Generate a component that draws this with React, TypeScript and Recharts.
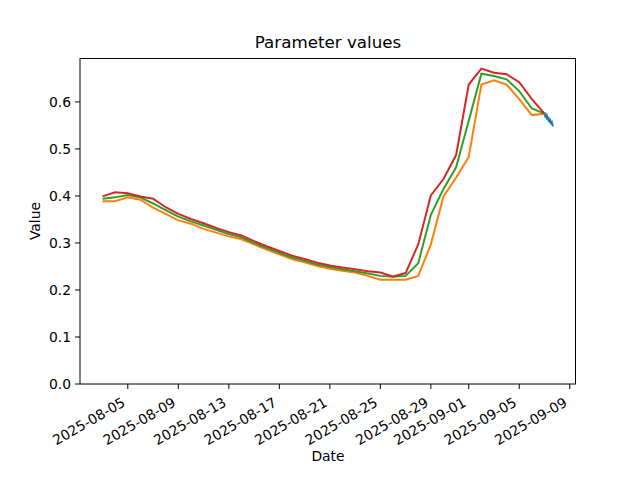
import { LineChart, Line, XAxis, YAxis } from 'recharts';

// daily values, one per date
const dates = [
  '2025-08-03', '2025-08-04', '2025-08-05', '2025-08-06', '2025-08-07', '2025-08-08',
  '2025-08-09', '2025-08-10', '2025-08-11', '2025-08-12', '2025-08-13', '2025-08-14',
  '2025-08-15', '2025-08-16', '2025-08-17', '2025-08-18', '2025-08-19', '2025-08-20',
  '2025-08-21', '2025-08-22', '2025-08-23', '2025-08-24', '2025-08-25', '2025-08-26',
  '2025-08-27', '2025-08-28', '2025-08-29', '2025-08-30', '2025-08-31', '2025-09-01',
  '2025-09-02', '2025-09-03', '2025-09-04', '2025-09-05', '2025-09-06', '2025-09-07',
];

const orangeValues = [
  0.389, 0.389, 0.397, 0.392, 0.375, 0.362, 0.348, 0.341, 0.330, 0.322, 0.314, 0.308,
  0.297, 0.286, 0.276, 0.266, 0.259, 0.251, 0.245, 0.241, 0.237, 0.230, 0.222, 0.222,
  0.222, 0.230, 0.297, 0.399, 0.439, 0.483, 0.637, 0.646, 0.637, 0.606, 0.572, 0.575,
];

const greenValues = [
  0.394, 0.397, 0.402, 0.397, 0.384, 0.370, 0.356, 0.346, 0.337, 0.328, 0.319, 0.312,
  0.300, 0.289, 0.279, 0.269, 0.262, 0.254, 0.249, 0.244, 0.240, 0.235, 0.230, 0.228,
  0.230, 0.257, 0.360, 0.415, 0.461, 0.560, 0.660, 0.655, 0.648, 0.623, 0.586, 0.575,
];

const redValues = [
  0.399, 0.408, 0.406, 0.399, 0.394, 0.376, 0.362, 0.351, 0.342, 0.332, 0.323, 0.316,
  0.304, 0.293, 0.283, 0.273, 0.266, 0.258, 0.252, 0.248, 0.244, 0.240, 0.237, 0.229,
  0.236, 0.297, 0.401, 0.436, 0.487, 0.637, 0.671, 0.662, 0.659, 0.642, 0.606, 0.575,
];

// hourly values on the last day
const hourlyTimes = [
  '2025-09-07T00:00', '2025-09-07T01:00', '2025-09-07T02:00', '2025-09-07T03:00',
  '2025-09-07T04:00', '2025-09-07T05:00', '2025-09-07T06:00', '2025-09-07T07:00',
  '2025-09-07T08:00', '2025-09-07T09:00', '2025-09-07T10:00', '2025-09-07T11:00',
  '2025-09-07T12:00', '2025-09-07T13:00', '2025-09-07T14:00', '2025-09-07T15:00',
  '2025-09-07T16:00', '2025-09-07T17:00',
];
const hourlyValues = [
  0.575, 0.571, 0.573, 0.568, 0.566, 0.569, 0.564, 0.562, 0.564,
  0.559, 0.558, 0.560, 0.555, 0.554, 0.556, 0.551, 0.550, 0.549,
];

const xTickDates = [
  '2025-08-05', '2025-08-09', '2025-08-13', '2025-08-17', '2025-08-21',
  '2025-08-25', '2025-08-29', '2025-09-01', '2025-09-05', '2025-09-09',
];
const yTicks = [0, 0.1, 0.2, 0.3, 0.4, 0.5, 0.6];

const toMs = (s: string) => Date.parse(s.length === 10 ? s + 'T00:00:00Z' : s + ':00Z');

const daily = (values: number[]) => dates.map((d, i) => ({ t: toMs(d), v: values[i] }));
const orangeData = daily(orangeValues);
const greenData = daily(greenValues);
const redData = daily(redValues);
const blueData = hourlyTimes.map((d, i) => ({ t: toMs(d), v: hourlyValues[i] }));

// matplotlib-style 5% margins
const tMin = toMs(dates[0]);
const tMax = toMs(hourlyTimes[hourlyTimes.length - 1]);
const xPad = (tMax - tMin) * 0.05;
const xDomain = [tMin - xPad, tMax + xPad];
const allValues = [...orangeValues, ...greenValues, ...redValues, ...hourlyValues];
const vMin = Math.min(...allValues);
const vMax = Math.max(...allValues);
const yDomain = [0, vMax + (vMax - vMin) * 0.05];

const FONT = '"DejaVu Sans", sans-serif';
const axisLine = { stroke: '#000', strokeWidth: 1 };

function DateTick({ x, y, payload }: any) {
  const label = new Date(payload.value).toISOString().slice(0, 10);
  const ax = x - 4;
  const ay = y + 12;
  return (
    <text
      x={ax}
      y={ay}
      dy="0.35em"
      textAnchor="end"
      transform={`rotate(-30, ${ax}, ${ay})`}
      fill="#000"
      fontSize={13.9}
      fontFamily={FONT}
    >
      {label}
    </text>
  );
}

export default function App() {
  return (
    <div style={{ position: 'absolute', left: 0, top: 0, width: 640, height: 480, background: '#fff', fontFamily: FONT }}>
      <div style={{ position: 'absolute', left: 0, width: 656, top: 32, textAlign: 'center', fontSize: 16.7 }}>
        Parameter values
      </div>
      <div style={{ position: 'absolute', left: 0, width: 656, top: 448, textAlign: 'center', fontSize: 13.9 }}>
        Date
      </div>
      <div
        style={{
          position: 'absolute',
          left: 35,
          top: 221,
          fontSize: 13.9,
          transform: 'translate(-50%, -50%) rotate(-90deg)',
          whiteSpace: 'nowrap',
        }}
      >
        Value
      </div>
      <LineChart width={640} height={480} margin={{ top: 58, right: 64, bottom: 0, left: 0 }} style={{ fontFamily: FONT }}>
        <XAxis
          dataKey="t"
          type="number"
          domain={xDomain}
          ticks={xTickDates.map(toMs)}
          tick={<DateTick />}
          height={96}
          tickSize={5}
          tickMargin={0}
          axisLine={axisLine}
          tickLine={{ stroke: '#000' }}
          interval={0}
          allowDataOverflow
        />
        <YAxis
          type="number"
          domain={yDomain}
          ticks={yTicks}
          tickFormatter={(v: number) => v.toFixed(1)}
          width={80}
          tickSize={5}
          tickMargin={4}
          tick={{ fill: '#000', fontSize: 13.9 }}
          axisLine={axisLine}
          tickLine={{ stroke: '#000' }}
          interval={0}
          allowDataOverflow
        />
        <Line data={blueData} dataKey="v" stroke="#1f77b4" strokeWidth={2} dot={false} isAnimationActive={false} />
        <Line data={orangeData} dataKey="v" stroke="#ff7f0e" strokeWidth={2} dot={false} isAnimationActive={false} />
        <Line data={greenData} dataKey="v" stroke="#2ca02c" strokeWidth={2} dot={false} isAnimationActive={false} />
        <Line data={redData} dataKey="v" stroke="#d62728" strokeWidth={2} dot={false} isAnimationActive={false} />
      </LineChart>
      {/* top and right spines of the axes frame */}
      <div
        style={{
          position: 'absolute',
          left: 80,
          top: 58,
          width: 496,
          height: 326,
          borderTop: '1px solid #000',
          borderRight: '1px solid #000',
          boxSizing: 'border-box',
          pointerEvents: 'none',
        }}
      />
    </div>
  );
}
